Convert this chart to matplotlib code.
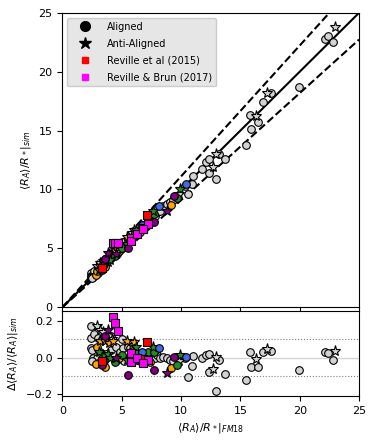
import numpy as np
import matplotlib
matplotlib.use('Agg')
import matplotlib.pyplot as plt
from matplotlib.lines import Line2D

plt.rcParams['font.size'] = 8

# x = <R_A>/R_* (FM18), d = Delta<R_A>/<R_A> (sim)
gray_circ_x = [2.4, 2.38, 2.4, 2.45, 2.7, 2.6, 2.9, 3.0, 3.3, 3.5, 3.8, 4.1, 3.2, 3.7, 4.1, 4.5,
               4.85, 5.13, 5.0, 5.5, 5.69, 6.0, 6.53, 6.9, 7.5, 7.8, 7.94, 8.0, 8.22, 8.5, 8.78,
               9.06, 9.3, 4.6, 5.2, 3.0, 3.5, 2.5,
               10.33, 10.6, 10.9, 11.03, 11.76, 12.1, 12.35, 12.35, 13.2, 12.94, 13.7, 15.47,
               15.8, 15.9, 16.5, 16.93, 17.58, 19.97, 22.13, 22.4, 22.83]
gray_circ_d = [0.172, 0.108, 0.052, 0.04, 0.13, 0.0, 0.0, 0.11, 0.1, 0.12, 0.1, 0.12, 0.03, 0.02,
               0.04, 0.06, 0.033, 0.052, 0.1, 0.06, 0.052, 0.03, 0.006, 0.01, 0.0, -0.003, 0.015,
               0.05, -0.003, 0.006, 0.0, -0.013, -0.02, -0.01, -0.02, -0.03, -0.02, -0.02,
               0.0, -0.105, -0.044, 0.01, 0.0, 0.016, 0.02, -0.08, -0.015, -0.185, -0.087, -0.12,
               0.03, -0.05, -0.05, 0.03, 0.035, -0.068, 0.03, 0.028, -0.013]
gray_star_x = [2.88, 3.16, 3.4, 4.2, 5.83, 9.8, 12.66, 12.94, 16.3, 17.27, 22.97]
gray_star_d = [0.172, 0.154, 0.14, 0.1, 0.07, -0.02, -0.063, 0.003, -0.005, 0.05, 0.035]

orange_circ_x = [2.82, 2.88, 3.58, 4.8, 6.5, 7.38, 9.15]
orange_circ_d = [-0.037, 0.061, -0.05, 0.0, -0.02, -0.022, -0.055]
orange_star_x = [3.2, 3.58, 3.95, 4.23, 5.41, 6.0]
orange_star_d = [0.09, 0.089, 0.08, 0.093, 0.093, 0.085]

green_circ_x = [3.44, 4.43, 4.99, 6.11, 7.24, 7.7, 9.63]
green_circ_d = [0.006, -0.022, 0.015, 0.024, 0.033, 0.03, -0.04]
green_star_x = [3.1, 3.8, 4.0, 5.41, 6.17, 7.66, 9.9]
green_star_d = [0.03, 0.02, -0.003, -0.013, 0.061, 0.061, 0.015]

purple_circ_x = [3.3, 3.58, 5.55, 6.3, 7.72, 9.43]
purple_circ_d = [-0.04, 0.117, -0.096, -0.01, -0.065, 0.005]
purple_star_x = [3.86, 4.5, 8.84]
purple_star_d = [0.154, 0.0, -0.083]

blue_circ_x = [6.73, 8.16, 10.4]
blue_circ_d = [0.033, 0.052, 0.005]

red_sq_x = [3.36, 6.76, 7.16]
red_sq_d = [-0.018, -0.007, 0.085]

mag_sq_x = [4.23, 4.43, 4.65, 5.75, 5.75, 6.26, 7.18, 6.81]
mag_sq_d = [0.224, 0.19, 0.148, 0.024, -0.022, -0.003, -0.013, -0.031]

groups = [
    (gray_circ_x, gray_circ_d, 'o', 'lightgray', 5.5),
    (gray_star_x, gray_star_d, '*', 'lightgray', 8),
    (orange_circ_x, orange_circ_d, 'o', 'orange', 5.5),
    (orange_star_x, orange_star_d, '*', 'orange', 8),
    (green_circ_x, green_circ_d, 'o', 'forestgreen', 5.5),
    (green_star_x, green_star_d, '*', 'forestgreen', 8),
    (purple_circ_x, purple_circ_d, 'o', 'purple', 5.5),
    (purple_star_x, purple_star_d, '*', 'purple', 8),
    (blue_circ_x, blue_circ_d, 'o', 'royalblue', 5.5),
    (red_sq_x, red_sq_d, 's', 'red', 5.5),
    (mag_sq_x, mag_sq_d, 's', 'magenta', 5.5),
]

fig = plt.figure(figsize=(3.74, 4.42), dpi=100)
ax1 = fig.add_axes([0.167, 0.305, 0.793, 0.666])
ax2 = fig.add_axes([0.167, 0.104, 0.793, 0.192])

t = np.linspace(0, 25, 100)
ax1.plot(t, t, 'k-', lw=1.5)
ax1.plot(t, t / 0.9, 'k--', lw=1.5)
ax1.plot(t, t / 1.1, 'k--', lw=1.5)

for x, d, m, c, ms in groups:
    x = np.array(x)
    d = np.array(d)
    ax1.plot(x, x / (1 - d), m, color=c, mec='k', mew=0.8, ms=ms, ls='none')
    ax2.plot(x, d, m, color=c, mec='k', mew=0.8, ms=ms, ls='none')

ax1.set_xlim(0, 25)
ax1.set_ylim(0, 25)
ax1.set_xticks([0, 5, 10, 15, 20, 25])
ax1.set_xticklabels([])
ax1.set_ylabel(r'$\langle R_A \rangle / R_* |_{sim}$')

handles = [
    Line2D([], [], marker='o', color='k', ls='none', ms=7),
    Line2D([], [], marker='*', color='k', ls='none', ms=9),
    Line2D([], [], marker='s', color='red', ls='none', ms=5),
    Line2D([], [], marker='s', color='magenta', ls='none', ms=5),
]
ax1.legend(handles, ['Aligned', 'Anti-Aligned', 'Reville et al (2015)', 'Reville & Brun (2017)'],
           loc='upper left', facecolor='0.9', edgecolor='0.8', framealpha=1, fontsize=7,
           handlelength=2.8, handletextpad=0.85, labelspacing=0.72)

ax2.axhline(0, color='lightgray', lw=1, zorder=0)
ax2.axhline(0.1, color='gray', lw=0.8, ls=':', zorder=0)
ax2.axhline(-0.1, color='gray', lw=0.8, ls=':', zorder=0)
ax2.set_xlim(0, 25)
ax2.set_ylim(-0.21, 0.255)
ax2.set_yticks([-0.2, 0.0, 0.2])
ax2.set_xlabel(r'$\langle R_A \rangle / R_* |_{FM18}$')
ax2.set_ylabel(r'$\Delta \langle R_A \rangle / \langle R_A \rangle |_{sim}$')

fig.savefig('out.png', dpi=100)
